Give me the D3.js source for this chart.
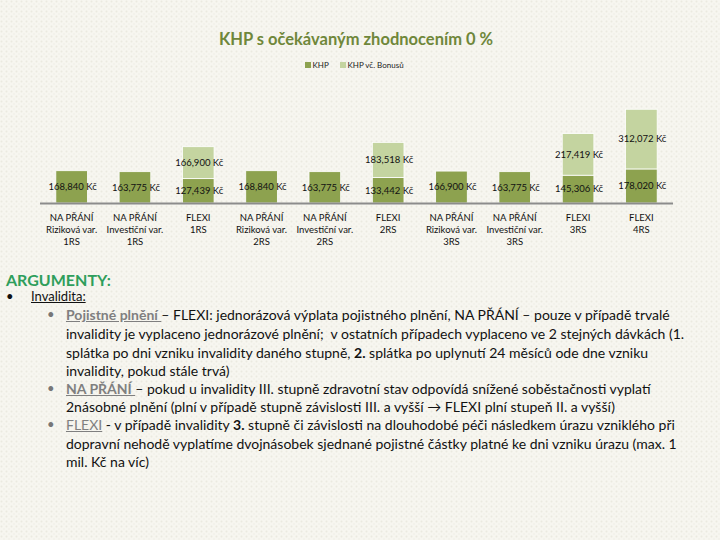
<!DOCTYPE html>
<html>
<head>
<meta charset="utf-8">
<script src="https://cdn.jsdelivr.net/npm/d3@7/dist/d3.min.js"></script>
<style>
html,body{margin:0;padding:0;}
body{width:720px;height:540px;overflow:hidden;position:relative;font-family:Lato,"Open Sans",sans-serif;}
#chart{position:absolute;left:0;top:0;}
#notes{position:absolute;left:0;top:0;width:720px;height:540px;pointer-events:none;}
.ln{position:absolute;white-space:nowrap;line-height:1;color:#111;}
.u{text-decoration:underline;}
.g{color:#7f7f7f;font-weight:bold;}
</style>
</head>
<body>
<svg id="chart" width="720" height="540"></svg>
<div id="notes"></div>
<script>
const categories = [
  ["NA PŘÁNÍ","Riziková var.","1RS"],
  ["NA PŘÁNÍ","Investiční var.","1RS"],
  ["FLEXI","1RS"],
  ["NA PŘÁNÍ","Riziková var.","2RS"],
  ["NA PŘÁNÍ","Investiční var.","2RS"],
  ["FLEXI","2RS"],
  ["NA PŘÁNÍ","Riziková var.","3RS"],
  ["NA PŘÁNÍ","Investiční var.","3RS"],
  ["FLEXI","3RS"],
  ["FLEXI","4RS"]
];
const khp   = [168840,163775,127439,168840,163775,133442,166900,163775,145306,178020];
const bonus = [null,null,166900,null,null,183518,null,null,217419,312072];
const seriesNames = ["KHP","KHP vč. Bonusů"];
const title = "KHP s očekávaným zhodnocením 0 %";

const svg = d3.select("#chart");
// background texture
const defs = svg.append("defs");
const pat = defs.append("pattern").attr("id","tex").attr("width",5).attr("height",5).attr("patternUnits","userSpaceOnUse");
pat.append("rect").attr("width",5).attr("height",5).attr("fill","#f7f6f0");
pat.append("circle").attr("cx",1.5).attr("cy",1.5).attr("r",1).attr("fill","#ebeae0");
pat.append("circle").attr("cx",4).attr("cy",4).attr("r",0.8).attr("fill","#efeee5");
svg.append("rect").attr("width",720).attr("height",540).attr("fill","url(#tex)");

const colors = ["#8da24f","#c4d4a0"];
const idx = d3.range(categories.length);
const x = d3.scaleBand().domain(idx).range([40,673]).paddingInner(0.5).paddingOuter(0.25);
const y = d3.scaleLinear().domain([0,500000]).range([203,107.35]);
const fmt = v => d3.format(",")(v) + " Kč";

// title
svg.append("text").attr("x",356).attr("y",45).attr("text-anchor","middle")
  .attr("font-size",16.5).attr("font-weight","bold").attr("fill","#6f873a").text(title);

// legend
const leg = svg.append("g").attr("font-size",8).attr("fill","#222");
const legX = [305,340];
seriesNames.forEach((n,i)=>{
  leg.append("rect").attr("x",legX[i]).attr("y",62).attr("width",6).attr("height",6).attr("fill",colors[i]);
  leg.append("text").attr("x",legX[i]+7.5).attr("y",68).text(n);
});

// bars
const stack = idx.map(i=>{
  const segs=[{s:0,y0:0,y1:khp[i],v:khp[i]}];
  if(bonus[i]!=null) segs.push({s:1,y0:khp[i],y1:khp[i]+bonus[i],v:bonus[i]});
  return {i,segs};
});
const g = svg.append("g");
stack.forEach(d=>{
  d.segs.forEach(s=>{
    g.append("rect").attr("x",x(d.i)).attr("width",x.bandwidth())
      .attr("y",y(s.y1)).attr("height",y(s.y0)-y(s.y1))
      .attr("fill",colors[s.s]).attr("stroke","#ffffff").attr("stroke-width",0.8);
  });
});
// axis line
svg.append("line").attr("x1",40).attr("x2",673).attr("y1",y(0)+0.5).attr("y2",y(0)+0.5)
  .attr("stroke","#8c8c8c").attr("stroke-width",2);
// value labels
stack.forEach(d=>{
  d.segs.forEach(s=>{
    svg.append("text").attr("x",x(d.i)+x.bandwidth()/2+1).attr("y",(y(s.y0)+y(s.y1))/2+3.3)
      .attr("text-anchor","middle").attr("font-size",9.5).attr("fill","#111").text(fmt(s.v));
  });
});
// category labels
idx.forEach(i=>{
  const t = svg.append("text").attr("text-anchor","middle").attr("font-size",9.5).attr("fill","#111");
  categories[i].forEach((line,k)=>{
    t.append("tspan").attr("x",x(i)+x.bandwidth()/2).attr("y",220.5+k*12).text(line);
  });
});

// notes block
const notes = d3.select("#notes");
notes.append("div").attr("class","ln").style("left","6px").style("top","272px")
  .style("font-size","16px").style("font-weight","bold").style("color","#2e9e5b").text("ARGUMENTY:");
notes.append("div").attr("class","ln").style("left","6px").style("top","290px").style("font-size","13px").text("•");
notes.append("div").attr("class","ln u").style("left","31px").style("top","290px").style("font-size","13px").text("Invalidita:");

const lines = [
  [47,'<span class="u g">Pojistné plnění </span>– FLEXI: jednorázová výplata pojistného plnění, NA PŘÁNÍ – pouze v případě trvalé'],
  [0,'invalidity je vyplaceno jednorázové plnění;&nbsp; v ostatních případech vyplaceno ve 2 stejných dávkách (1.'],
  [0,'splátka po dni vzniku invalidity daného stupně, <b>2.</b> splátka po uplynutí 24 měsíců ode dne vzniku'],
  [0,'invalidity, pokud stále trvá)'],
  [47,'<span class="u g">NA PŘÁNÍ </span>– pokud u invalidity III. stupně zdravotní stav odpovídá snížené soběstačnosti vyplatí'],
  [0,'2násobné plnění (plní v případě stupně závislosti III. a vyšší → FLEXI plní stupeň II. a vyšší)'],
  [47,'<span class="u" style="color:#7f7f7f">FLEXI</span> - v případě invalidity <b>3.</b> stupně či závislosti na dlouhodobé péči následkem úrazu vzniklého při'],
  [0,'dopravní nehodě vyplatíme dvojnásobek sjednané pojistné částky platné ke dni vzniku úrazu (max. 1'],
  [0,'mil. Kč na víc)']
];
const lineTops = [308,327,346,364,382,400,418,437,455];
const divs = lines.map((l,k)=>{
  if(l[0]) notes.append("div").attr("class","ln").style("left","47px").style("top",lineTops[k]+"px").style("font-size","13px").style("color","#777").text("•");
  return notes.append("div").attr("class","ln").style("left","66px").style("top",lineTops[k]+"px").style("font-size","13px").html(l[1]);
});
// fit font size so first line spans ~624px
const w0 = divs[0].node().getBoundingClientRect().width;
const fs = Math.max(10, Math.min(14, 13*624/w0));
divs.forEach(d=>d.style("font-size",fs+"px"));
</script>
</body>
</html>
